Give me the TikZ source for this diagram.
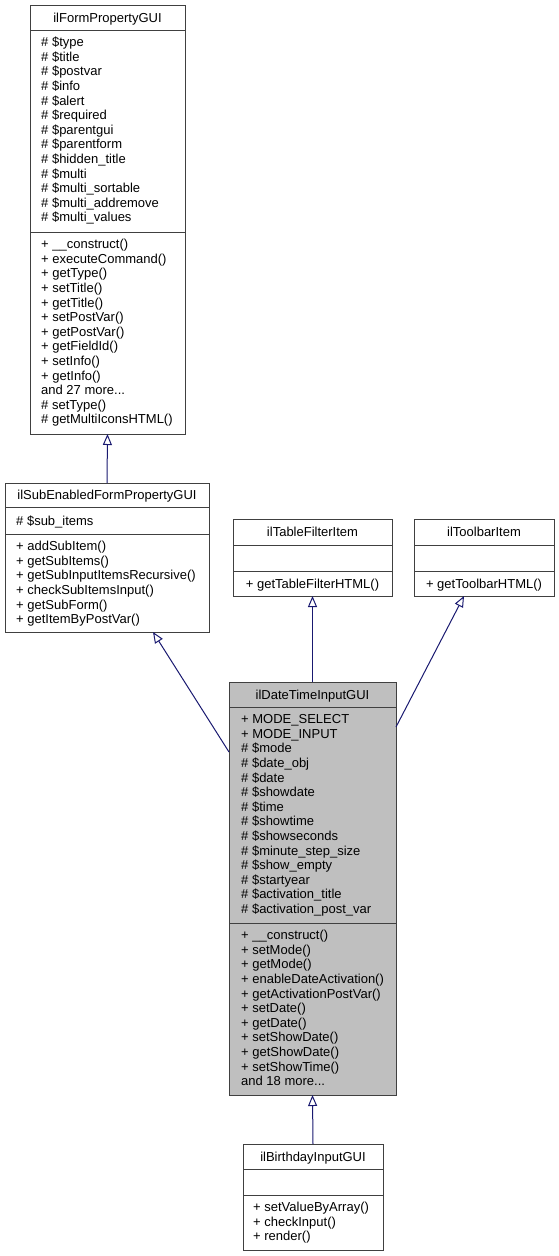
\documentclass[tikz,border=0pt]{standalone}
\usepackage{fontspec}
\setmainfont{Liberation Sans}
\usetikzlibrary{arrows.meta,calc}
\definecolor{edgeblue}{HTML}{191970}
\definecolor{boxgray}{HTML}{404040}
\definecolor{dtfill}{HTML}{BFBFBF}
\newcommand{\mydots}{...}
\tikzset{
  umlbox/.style={draw=boxgray, line width=1pt, fill=white, anchor=north west, inner sep=0pt, outer sep=0pt},
  sepline/.style={draw=boxgray, line width=1pt},
  txt/.style={anchor=base west, inner sep=0pt, font=\fontsize{13}{14.6}\selectfont},
  ttl/.style={anchor=base, inner sep=0pt, font=\fontsize{13}{14.6}\selectfont},
  edge/.style={draw=edgeblue, line width=1pt, -{Triangle[length=11pt,width=9pt,fill=white]}},
}
\begin{document}
\begin{tikzpicture}[x=1pt,y=-1pt]
\useasboundingbox (0,0) rectangle (559,1256);

% ---------- ilFormPropertyGUI ----------
\node[umlbox, minimum width=155pt, minimum height=429pt] (fp) at (30,5) {};
\draw[sepline] (30,30) -- (185,30);
\draw[sepline] (30,232) -- (185,232);
\node[ttl] (fpt) at (107.5,22) {ilFormPropertyGUI};
\foreach \t [count=\i] in {\# \$type, \# \$title, \# \$postvar, \# \$info, \# \$alert, \# \$required, \# \$parentgui, \# \$parentform, \# \$hidden\_title, \# \$multi, \# \$multi\_sortable, \# \$multi\_addremove, \# \$multi\_values}
  \node[txt] (fpa\i) at (41,{46.6+(\i-1)*14.6}) {\t};
\foreach \t [count=\i] in {+ \_\_construct(), + executeCommand(), + getType(), + setTitle(), + getTitle(), + setPostVar(), + getPostVar(), + getFieldId(), + setInfo(), + getInfo(), and 27 more\mydots, \# setType(), \# getMultiIconsHTML()}
  \node[txt] (fpm\i) at (41,{248.6+(\i-1)*14.6}) {\t};

% ---------- ilSubEnabledFormPropertyGUI ----------
\node[umlbox, minimum width=204pt, minimum height=149pt] (se) at (5,483) {};
\draw[sepline] (5,507) -- (209,507);
\draw[sepline] (5,534) -- (209,534);
\node[ttl] (set) at (107,499.6) {ilSubEnabledFormPropertyGUI};
\node[txt] (sea1) at (16,525) {\# \$sub\_items};
\foreach \t [count=\i] in {+ addSubItem(), + getSubItems(), + getSubInputItemsRecursive(), + checkSubItemsInput(), + getSubForm(), + getItemByPostVar()}
  \node[txt] (sem\i) at (16,{550.6+(\i-1)*14.6}) {\t};

% ---------- ilTableFilterItem ----------
\node[umlbox, minimum width=159pt, minimum height=77pt] (tf) at (233,519) {};
\draw[sepline] (233,545) -- (392,545);
\draw[sepline] (233,571) -- (392,571);
\node[ttl] (tft) at (312.5,536.6) {ilTableFilterItem};
\node[ttl] (tfm1) at (312.5,588) {+ getTableFilterHTML()};

% ---------- ilToolbarItem ----------
\node[umlbox, minimum width=140pt, minimum height=77pt] (tb) at (414,519) {};
\draw[sepline] (414,545) -- (554,545);
\draw[sepline] (414,571) -- (554,571);
\node[ttl] (tbt) at (484,536.6) {ilToolbarItem};
\node[ttl] (tbm1) at (484,588) {+ getToolbarHTML()};

% ---------- ilDateTimeInputGUI ----------
\node[umlbox, fill=dtfill, minimum width=167pt, minimum height=413pt] (dt) at (229,682) {};
\draw[sepline] (229,707) -- (396,707);
\draw[sepline] (229,923) -- (396,923);
\node[ttl] (dtt) at (312.5,699.1) {ilDateTimeInputGUI};
\foreach \t [count=\i] in {+ MODE\_SELECT, + MODE\_INPUT, \# \$mode, \# \$date\_obj, \# \$date, \# \$showdate, \# \$time, \# \$showtime, \# \$showseconds, \# \$minute\_step\_size, \# \$show\_empty, \# \$startyear, \# \$activation\_title, \# \$activation\_post\_var}
  \node[txt] (dta\i) at (241,{723.6+(\i-1)*14.6}) {\t};
\foreach \t [count=\i] in {+ \_\_construct(), + setMode(), + getMode(), + enableDateActivation(), + getActivationPostVar(), + setDate(), + getDate(), + setShowDate(), + getShowDate(), + setShowTime(), and 18 more\mydots}
  \node[txt] (dtm\i) at (241,{939.6+(\i-1)*14.6}) {\t};

% ---------- ilBirthdayInputGUI ----------
\node[umlbox, minimum width=140pt, minimum height=106pt] (bd) at (243,1144) {};
\draw[sepline] (243,1169) -- (383,1169);
\draw[sepline] (243,1195) -- (383,1195);
\node[ttl] (bdt) at (313,1161.1) {ilBirthdayInputGUI};
\foreach \t [count=\i] in {+ setValueByArray(), + checkInput(), + render()}
  \node[txt] (bdm\i) at (253,{1211.6+(\i-1)*14.6}) {\t};

% ---------- inheritance connectors ----------
\draw[edge] (se.north) -- (fp.south);
\draw[edge] (dt.north) -- (tf.south);
\draw[edge] ($(dt.north west)+(0,70)$) -- ($(se.south west)+(148,0)$);
\draw[edge] ($(dt.north east)+(0,45)$) -- ($(tb.south west)+(50,0)$);
\draw[edge] (bd.north) -- (dt.south);
\end{tikzpicture}
\end{document}
